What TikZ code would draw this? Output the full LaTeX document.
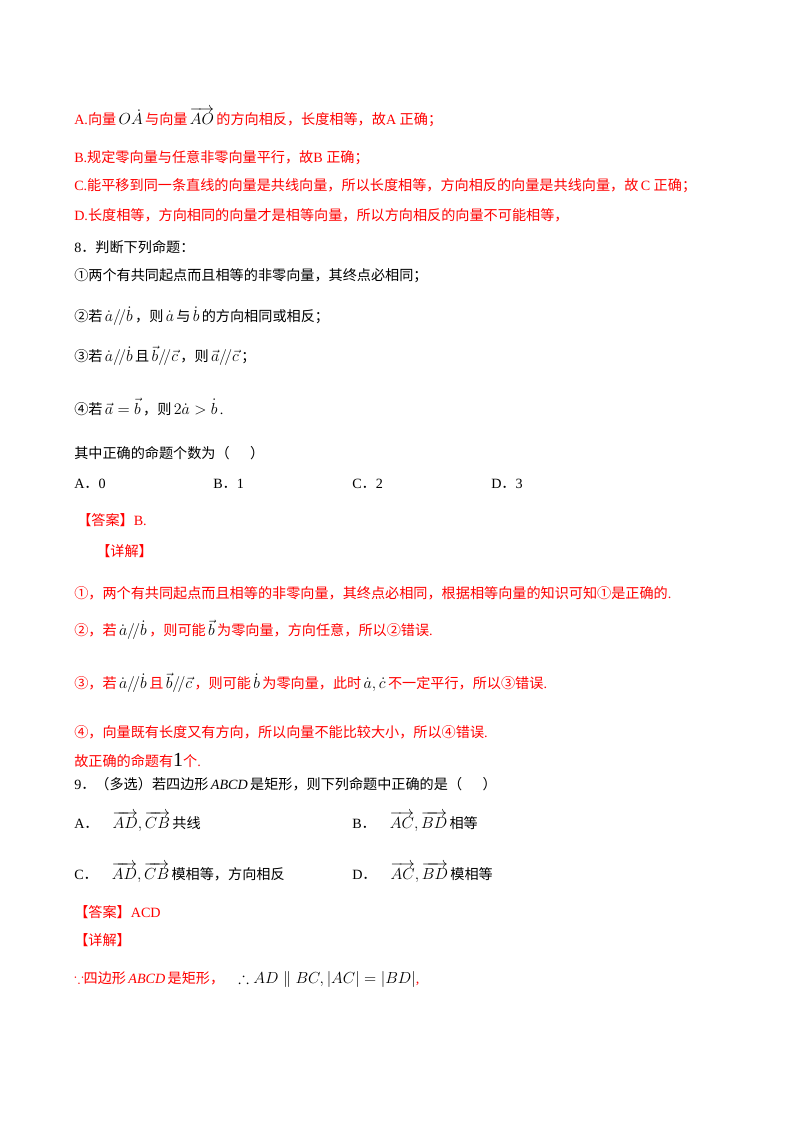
\documentclass[tikz,border=0pt]{standalone}
\usepackage{amsmath,amssymb}
\usepackage{fontspec}
\setmainfont{Liberation Serif}
\newfontfamily\cjf{Noto Sans CJK SC}
\newcommand{\zh}[1]{{\cjf #1}}
\definecolor{ansred}{RGB}{255,0,0}
\begin{document}
\begin{tikzpicture}[x=0.75pt,y=-0.75pt,
  ln/.style={anchor=west,inner sep=0pt,font=\fontsize{10.6}{13}\selectfont},
  rd/.style={ln,text=ansred}]
\useasboundingbox (0,0) rectangle (800,1132);
\newcommand{\K}[1]{\textcolor{black}{\large$#1$}}
\node[rd] (l1) at (74,117) {A.\zh{向量}\,\K{O\dot{A}}\,\zh{与向量}\,\K{\overrightarrow{AO}}\,\zh{的方向相反，长度相等，故}A \zh{正确；}};
\node[rd] (l2) at (74,158) {B.\zh{规定零向量与任意非零向量平行，故}B \zh{正确；}};
\node[rd] (l3) at (74,186) {C.\zh{能平移到同一条直线的向量是共线向量，所以长度相等，方向相反的向量是共线向量，故}\,C \zh{正确；}};
\node[rd] (l4) at (74,215) {D.\zh{长度相等，方向相同的向量才是相等向量，所以方向相反的向量不可能相等，}};
\node[ln] (q8) at (74,247) {8\zh{．判断下列命题：}};
\node[ln] (p1) at (74,276) {\zh{①两个有共同起点而且相等的非零向量，其终点必相同；}};
\node[ln] (p2) at (74,316) {\zh{②若}\,\K{\dot a/\!/\dot b}\,\zh{，则}\,\K{\dot a}\,\zh{与}\,\K{\dot b}\,\zh{的方向相同或相反；}};
\node[ln] (p3) at (74,356) {\zh{③若}\,\K{\dot a/\!/\dot b}\,\zh{且}\,\K{\vec b/\!/\vec c}\,\zh{，则}\,\K{\vec a/\!/\vec c}\,\zh{；}};
\node[ln] (p4) at (74,407) {\zh{④若}\,\K{\vec a=\vec b}\,\zh{，则}\,\K{2\dot a>\dot b}\,.};
\node[ln] (qq) at (74,453) {\zh{其中正确的命题个数为（\quad\ \ ）}};
\node[ln] (oA) at (74,484) {A\zh{．}0};
\node[ln] (oB) at (213,484) {B\zh{．}1};
\node[ln] (oC) at (352,484) {C\zh{．}2};
\node[ln] (oD) at (491,484) {D\zh{．}3};
\node[rd] (ans) at (77,520) {\zh{【答案】}B.};
\node[rd] (det) at (96,551) {\zh{【详解】}};
\node[rd] (d1) at (74,593) {\zh{①，两个有共同起点而且相等的非零向量，其终点必相同，根据相等向量的知识可知①是正确的}.};
\node[rd] (d2) at (74,630) {\zh{②，若}\,\K{\dot a/\!/\dot b}\,\zh{，则可能}\,\K{\vec b}\,\zh{为零向量，方向任意，所以②错误}.};
\node[rd] (d3) at (74,683) {\zh{③，若}\,\K{\dot a/\!/\dot b}\,\zh{且}\,\K{\vec b/\!/\vec c}\,\zh{，则可能}\,\K{\dot b}\,\zh{为零向量，此时}\,\K{\dot a,\dot c}\,\zh{不一定平行，所以③错误}.};
\node[rd] (d4) at (74,732) {\zh{④，向量既有长度又有方向，所以向量不能比较大小，所以④错误}.};
\node[rd] (d5) at (74,760) {\zh{故正确的命题有}\textcolor{black}{\fontsize{15}{15}\selectfont 1}\zh{个}.};
\node[ln] (q9) at (74,784) {9\zh{．（多选）若四边形}\,\textit{ABCD}\,\zh{是矩形，则下列命题中正确的是（\quad\ \ ）}};
\node[ln] (nA) at (74,822) {A\zh{．}\quad\K{\overrightarrow{AD},\overrightarrow{CB}}\,\zh{共线}};
\node[ln] (nB) at (352,822) {B\zh{．}\quad\K{\overrightarrow{AC},\overrightarrow{BD}}\,\zh{相等}};
\node[ln] (nC) at (74,873) {C\zh{．}\quad\K{\overrightarrow{AD},\overrightarrow{CB}}\,\zh{模相等，方向相反}};
\node[ln] (nD) at (352,873) {D\zh{．}\quad\K{\overrightarrow{AC},\overrightarrow{BD}}\,\zh{模相等}};
\node[rd] (ans2) at (74,912) {\zh{【答案】}ACD};
\node[rd] (det2) at (74,940) {\zh{【详解】}};
\node[rd] (e1) at (74,979) {$\because$\zh{四边形}\,\textit{ABCD}\,\zh{是矩形，}\quad\K{\therefore AD\parallel BC,\left|AC\right|=\left|BD\right|},};
\end{tikzpicture}
\end{document}
